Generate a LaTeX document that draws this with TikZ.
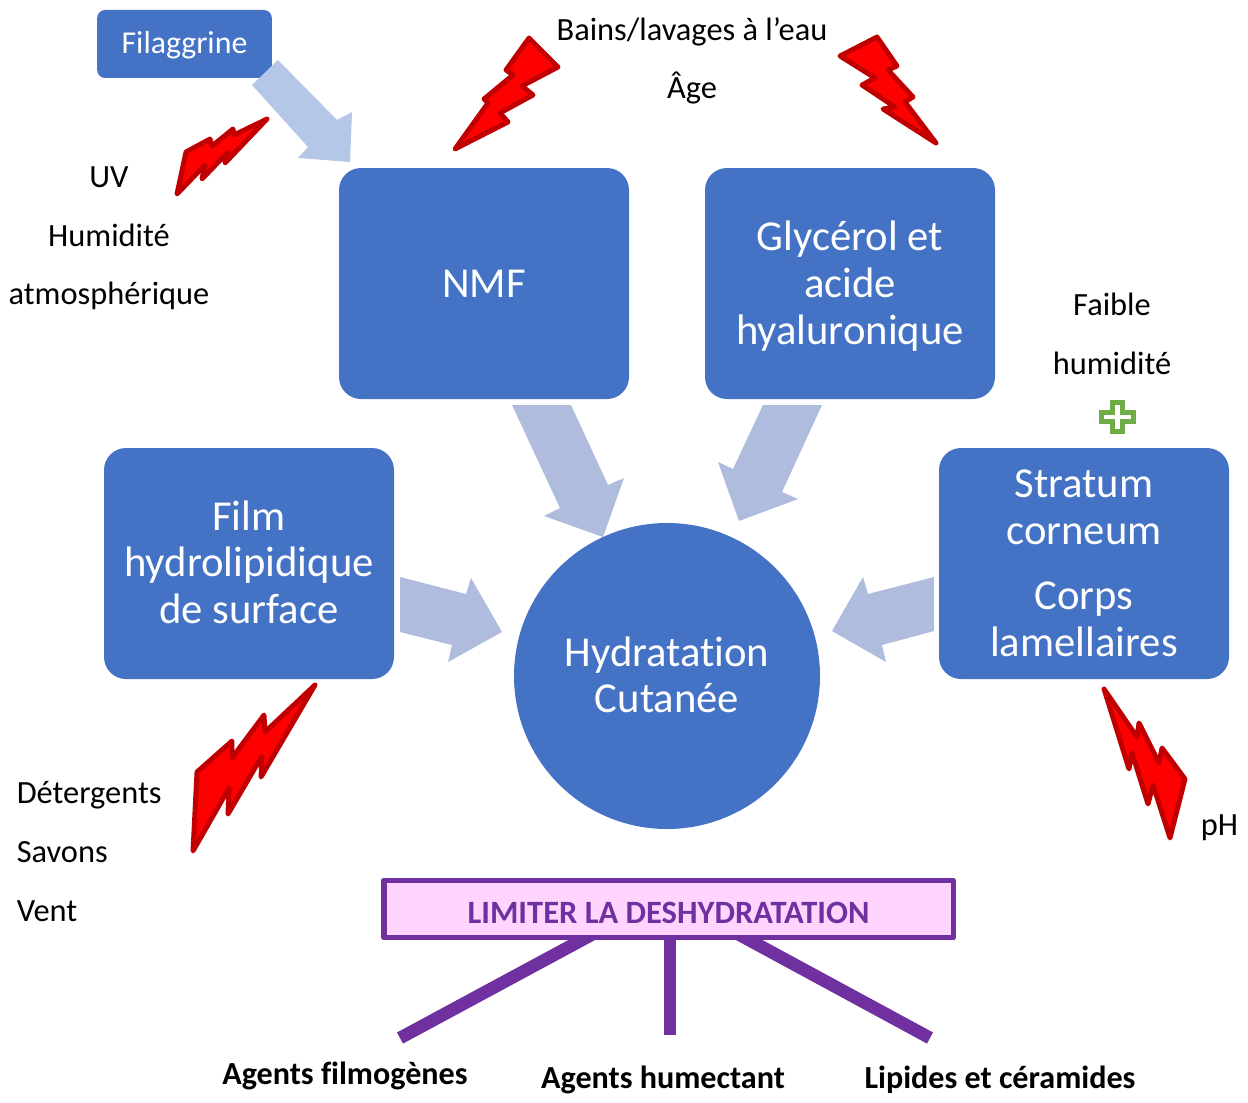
\documentclass[tikz,border=0pt]{standalone}
\usepackage{fontspec}
\setmainfont[Ligatures=NoCommon]{Carlito}
\definecolor{bleu}{HTML}{4472C4}
\definecolor{pale}{HTML}{B4C7E7}
\definecolor{fleche}{HTML}{AFBCDE}
\definecolor{rouge}{HTML}{C00000}
\definecolor{violet1}{HTML}{7030A0}
\definecolor{rose}{HTML}{FFD5FF}
\definecolor{vert}{HTML}{70AD47}
\newcommand{\decale}[2]{\raisebox{#1}[0pt][0pt]{\begin{tabular}{@{}c@{}}#2\end{tabular}}}
\newcommand{\baisse}[2]{\raisebox{#1}[0pt][0pt]{#2}}
\tikzset{
  x=0.75pt,y=-0.75pt,
  bloc/.style={rectangle,rounded corners=16.5pt,fill=bleu,text=white,minimum width=217.5pt,minimum height=173.25pt,inner sep=0pt,align=center,font=\fontsize{32}{35}\selectfont},
  petit/.style={rectangle,rounded corners=6pt,fill=bleu,text=white,minimum width=131pt,minimum height=51pt,inner sep=0pt,align=center,font=\fontsize{23.9}{27}\selectfont},
  rond/.style={circle,fill=bleu,text=white,minimum size=229.5pt,inner sep=0pt,align=center,font=\fontsize{32}{34.5}\selectfont},
  txt/.style={inner sep=0pt,align=center,font=\fontsize{24.3}{44}\selectfont},
  gras/.style={inner sep=0pt,font=\fontsize{24.1}{26}\selectfont\bfseries},
  eclair/.style={fill=red,draw=rouge,line width=3.7pt,line join=round},
  blocfl/.style={fill=fleche},
  barre/.style={draw=violet1,line width=9.5pt},
}
\begin{document}
\begin{tikzpicture}
\useasboundingbox (0,0) rectangle (1248,1102);
% boxes
\node[petit] (fil) at (184.5,44) {\baisse{-7.5pt}{Filaggrine}};
\node[bloc] (nmf) at (484,283.5) {NMF};
\node[bloc] (gly) at (850,283.5) {\decale{-9.75pt}{Glycérol et\\acide\\hyaluronique}};
\node[bloc] (film) at (249,563.5) {\decale{-9.2pt}{Film\\hydrolipidique\\de surface}};
\node[bloc] (sc) at (1084,563.5) {\decale{-9.5pt}{Stratum\\corneum\\[0.44em]Corps\\lamellaires}};
\node[rond] (hyd) at (667,676) {\decale{-9.1pt}{Hydratation\\Cutanée}};
% block arrows
\fill[pale] (278,60) -- (252,85) -- (308,147) -- (298,158) -- (350,162) -- (352,112) -- (337,120) -- cycle;
\fill[blocfl] (512,405) -- (571,405) -- (608,485) -- (624,478) -- (603,537) -- (544,516) -- (560,508) -- cycle;
\fill[blocfl] (763,405) -- (822,405) -- (782,492) -- (798,499) -- (739,521) -- (718,462) -- (733,469) -- cycle;
\fill[blocfl] (400,577) -- (466,594) -- (471,578) -- (502,632) -- (448,662) -- (452,645) -- (400,632) -- cycle;
\fill[blocfl] (934,577) -- (868,594) -- (863,577) -- (832,631) -- (886,662) -- (882,645) -- (934,631) -- cycle;
% lightning
\draw[eclair] (529,38) -- (558,67) -- (522,86) -- (533,95) -- (500,113) -- (508,122) -- (455,149) -- (488,103) -- (484,99) -- (513,75) -- (506,70) -- cycle;
\draw[eclair] (877,37) -- (840,56) -- (875,78) -- (862,85) -- (895,107) -- (883,109) -- (936,143) -- (905,102) -- (913,97) -- (888,70) -- (897,66) -- cycle;
\draw[eclair] (267,119) -- (234,135) -- (233,129) -- (212,146) -- (210,139) -- (186,152) -- (177,194) -- (205,165) -- (202,179) -- (228,152) -- (225,163) -- cycle;
\draw[eclair] (315,685) -- (265,732) -- (264,715) -- (232,758) -- (232,741) -- (197,772) -- (193,851) -- (229,788) -- (228,814) -- (262,756) -- (261,777) -- cycle;
\draw[eclair] (1104,689) -- (1137,737) -- (1139,723) -- (1159,763) -- (1162,748) -- (1185,779) -- (1170,838) -- (1153,785) -- (1148,804) -- (1132,753) -- (1129,769) -- cycle;
% plus
\draw[vert,line width=3.75pt,fill=white] (1112.5,402.5) -- (1122.5,402.5) -- (1122.5,412.5) -- (1133.5,412.5) -- (1133.5,421.5) -- (1122.5,421.5) -- (1122.5,431.5) -- (1112.5,431.5) -- (1112.5,421.5) -- (1101.5,421.5) -- (1101.5,412.5) -- (1112.5,412.5) -- cycle;
% labels
\node[txt] (t1) at (692,61) {Bains/lavages à l’eau\\Âge};
\node[txt] (t2) at (109,238.5) {UV\\Humidité\\atmosphérique};
\node[txt] (t3) at (1112,334) {Faible\\humidité};
\node[txt,align=left,anchor=west] (t4) at (16.5,851.5) {Détergents\\Savons\\Vent};
\node[txt,anchor=west] (t5) at (1200.5,828) {pH};
% bottom
\coordinate (b1) at (400,1038);
\coordinate (b2) at (670,1035);
\coordinate (b3) at (930,1038);
\coordinate (h1) at (604,928);
\coordinate (h2) at (670,928);
\coordinate (h3) at (727,928);
\draw[barre] (h1) -- (b1);
\draw[barre] (h2) -- (b2);
\draw[barre] (h3) -- (b3);
\node[draw=violet1,line width=4pt,line join=round,fill=rose,text=violet1,minimum width=427pt,minimum height=43pt,inner sep=0pt,font=\fontsize{24.4}{26}\selectfont\bfseries] (lim) at (668.5,909) {\baisse{-11.2pt}{LIMITER LA DESHYDRATATION}};
\node[gras] (a1) at (345,1076) {Agents filmogènes};
\node[gras] (a2) at (663,1080) {Agents humectant};
\node[gras] (a3) at (1000,1080) {Lipides et céramides};
\end{tikzpicture}
\end{document}
